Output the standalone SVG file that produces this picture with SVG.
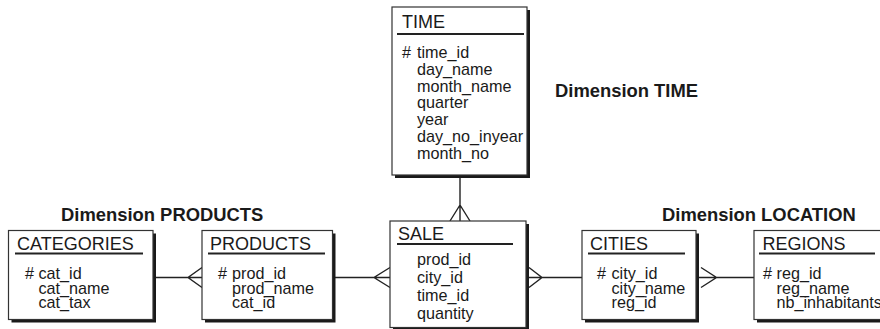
<svg xmlns="http://www.w3.org/2000/svg" width="880" height="329" viewBox="0 0 880 329">
  <style>
    .shadow { fill: #1a1a1a; }
    .box { fill: #ffffff; stroke: #333333; stroke-width: 1.2; }
    .rule { stroke: #222222; stroke-width: 1.8; }
    .title { font-family: "Liberation Sans", Arial, sans-serif; font-size: 18px; fill: #1a1a1a; }
    .attr { font-family: "Liberation Sans", Arial, sans-serif; font-size: 16.2px; fill: #1a1a1a; }
    .dim { font-family: "Liberation Sans", Arial, sans-serif; font-size: 18.4px; font-weight: bold; fill: #1a1a1a; }
    .link { fill: none; stroke: #222222; stroke-width: 1.4; }
  </style>

  <!-- dimension captions -->
  <text class="dim" x="555" y="97">Dimension TIME</text>
  <text class="dim" x="61" y="221">Dimension PRODUCTS</text>
  <text class="dim" x="662" y="221">Dimension LOCATION</text>

  <!-- relationships (crow's foot marks the "many" side) -->
  <g id="connectors">
    <!-- TIME - SALE -->
    <path class="link" d="M460 178 V221 M450 221 L460 205 L470 221"/>
    <!-- CATEGORIES - PRODUCTS -->
    <path class="link" d="M155 277.5 H202 M202 267.5 L188 277.5 L202 287.5"/>
    <!-- PRODUCTS - SALE -->
    <path class="link" d="M335 277.5 H390 M390 267.5 L374 277.5 L390 287.5"/>
    <!-- SALE - CITIES -->
    <path class="link" d="M529 277.5 H582 M529 267.5 L542 277.5 L529 287.5"/>
    <!-- CITIES - REGIONS -->
    <path class="link" d="M699 277.5 H754 M701 267.5 L716.5 277.5 L701 287.5"/>
  </g>

  <g id="time">
    <rect class="shadow" x="395" y="10" width="135" height="168"/>
    <rect class="box" x="392" y="7" width="135" height="168"/>
    <text class="title" x="402" y="27.5">TIME</text>
    <line class="rule" x1="397" y1="34" x2="524" y2="34"/>
    <text class="attr" x="402" y="58">#</text>
    <text class="attr" x="417" y="58">time_id</text>
    <text class="attr" x="417" y="74.8">day_name</text>
    <text class="attr" x="417" y="91.6">month_name</text>
    <text class="attr" x="417" y="108.4">quarter</text>
    <text class="attr" x="417" y="125.2">year</text>
    <text class="attr" x="417" y="142">day_no_inyear</text>
    <text class="attr" x="417" y="158.8">month_no</text>
  </g>

  <g id="categories">
    <rect class="shadow" x="11.5" y="233.5" width="144.5" height="89"/>
    <rect class="box" x="8.5" y="230.5" width="144.5" height="89"/>
    <text class="title" x="17" y="250">CATEGORIES</text>
    <line class="rule" x1="15" y1="253.5" x2="143" y2="253.5"/>
    <text class="attr" x="25" y="279">#</text>
    <text class="attr" x="38.5" y="279">cat_id</text>
    <text class="attr" x="38.5" y="293.7">cat_name</text>
    <text class="attr" x="38.5" y="308.4">cat_tax</text>
  </g>

  <g id="products">
    <rect class="shadow" x="205" y="233.5" width="130.5" height="89"/>
    <rect class="box" x="202" y="230.5" width="130.5" height="89"/>
    <text class="title" x="210" y="250">PRODUCTS</text>
    <line class="rule" x1="208" y1="253.5" x2="325" y2="253.5"/>
    <text class="attr" x="218" y="279">#</text>
    <text class="attr" x="232" y="279">prod_id</text>
    <text class="attr" x="232" y="293.7">prod_name</text>
    <text class="attr" x="232" y="308.4">cat_id</text>
  </g>

  <g id="sale">
    <rect class="shadow" x="393" y="224" width="136" height="106.5"/>
    <rect class="box" x="390" y="221" width="136" height="106.5"/>
    <text class="title" x="398" y="240">SALE</text>
    <line class="rule" x1="397" y1="244" x2="513" y2="244"/>
    <text class="attr" x="417" y="265">prod_id</text>
    <text class="attr" x="417" y="283">city_id</text>
    <text class="attr" x="417" y="301">time_id</text>
    <text class="attr" x="417" y="319">quantity</text>
  </g>

  <g id="cities">
    <rect class="shadow" x="585" y="233.5" width="114" height="89"/>
    <rect class="box" x="582" y="230.5" width="114" height="89"/>
    <text class="title" x="590" y="250">CITIES</text>
    <line class="rule" x1="588" y1="253.5" x2="685" y2="253.5"/>
    <text class="attr" x="597" y="279">#</text>
    <text class="attr" x="611.5" y="279">city_id</text>
    <text class="attr" x="611.5" y="293.7">city_name</text>
    <text class="attr" x="611.5" y="308.4">reg_id</text>
  </g>

  <g id="regions">
    <rect class="shadow" x="757" y="233.5" width="140" height="89"/>
    <rect class="box" x="754" y="230.5" width="140" height="89"/>
    <text class="title" x="762.5" y="250">REGIONS</text>
    <line class="rule" x1="759" y1="253.5" x2="875" y2="253.5"/>
    <text class="attr" x="763" y="279">#</text>
    <text class="attr" x="776.5" y="279">reg_id</text>
    <text class="attr" x="776.5" y="293.7">reg_name</text>
    <text class="attr" x="776.5" y="308.4">nb_inhabitants</text>
  </g>
</svg>
